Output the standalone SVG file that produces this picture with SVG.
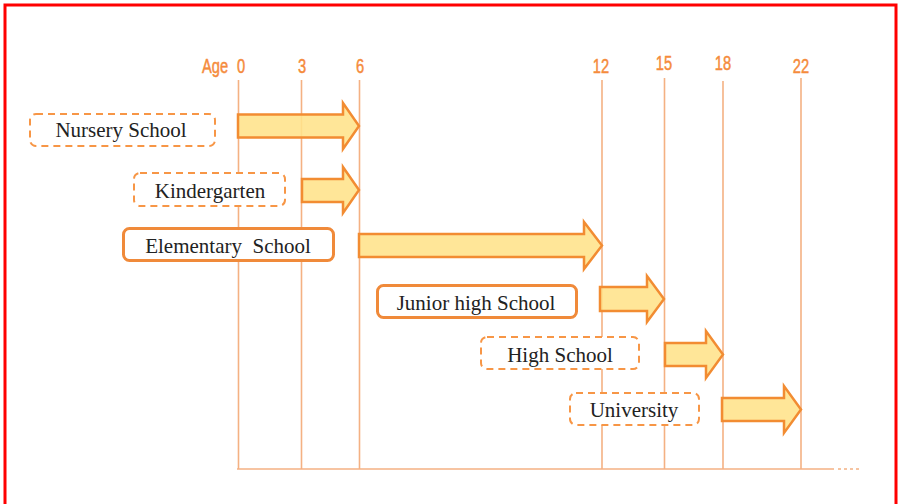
<svg xmlns="http://www.w3.org/2000/svg" width="900" height="504" viewBox="0 0 900 504">
  <style>
    .grid { stroke: #F4B183; stroke-width: 1.6; fill: none; }
    .age { font-family: "Liberation Sans", "DejaVu Sans", sans-serif; font-size: 21px; fill: #F58B3C; stroke: #F58B3C; stroke-width: 0.5; text-anchor: middle; }
    .box { fill: #FFFFFF; stroke: #F79646; rx: 6; }
    .dashed { stroke-width: 2; stroke-dasharray: 7 5; }
    .solid { stroke: #F08A3A; stroke-width: 3; }
    .label { font-family: "Liberation Serif", "Times New Roman", serif; font-size: 21px; fill: #222222; text-anchor: middle; }
    .arrow { fill: #FFE28A; fill-opacity: 0.88; stroke: #F28C32; stroke-width: 2.5; stroke-linejoin: miter; }
  </style>

  <!-- outer frame -->
  <rect x="5" y="5" width="891" height="520" fill="none" stroke="#FF0000" stroke-width="3"/>

  <!-- age scale -->
  <g id="age-scale">
    <text class="age" transform="translate(215,73) scale(0.7,1)">Age</text>
    <text class="age" transform="translate(241,73) scale(0.7,1)">0</text>
    <text class="age" transform="translate(302,73) scale(0.7,1)">3</text>
    <text class="age" transform="translate(360,73) scale(0.7,1)">6</text>
    <text class="age" transform="translate(601,73) scale(0.7,1)">12</text>
    <text class="age" transform="translate(664,70) scale(0.7,1)">15</text>
    <text class="age" transform="translate(723,70) scale(0.7,1)">18</text>
    <text class="age" transform="translate(801,73) scale(0.7,1)">22</text>
  </g>

  <!-- grid lines and baseline -->
  <g id="connectors">
    <line class="grid" x1="238.5" y1="80" x2="238.5" y2="469"/>
    <line class="grid" x1="301.5" y1="80" x2="301.5" y2="469"/>
    <line class="grid" x1="359.5" y1="80" x2="359.5" y2="469"/>
    <line class="grid" x1="602" y1="80" x2="602" y2="469"/>
    <line class="grid" x1="664.5" y1="78" x2="664.5" y2="469"/>
    <line class="grid" x1="723" y1="81" x2="723" y2="469"/>
    <line class="grid" x1="801" y1="78" x2="801" y2="469"/>
    <line class="grid" x1="237" y1="469" x2="834" y2="469" stroke-width="2"/>
    <line class="grid" x1="838" y1="469" x2="862" y2="469" stroke-width="2" stroke-dasharray="3 3"/>
  </g>

  <!-- school stages -->
  <g id="nursery">
    <rect class="box dashed" x="30" y="114" width="185" height="32"/>
    <text class="label" x="121" y="137">Nursery School</text>
    <path class="arrow" d="M238,114.5 H343 V103 L359,126 L343,149 V137.5 H238 Z"/>
  </g>

  <g id="kindergarten">
    <rect class="box dashed" x="134" y="173" width="151" height="33"/>
    <text class="label" x="210" y="198">Kindergarten</text>
    <path class="arrow" d="M302,179 H343 V167 L359,190 L343,213 V202 H302 Z"/>
  </g>

  <g id="elementary">
    <rect class="box solid" x="123.5" y="228.5" width="210" height="32"/>
    <text class="label" x="228" y="253">Elementary&#160; School</text>
    <path class="arrow" d="M359,234 H584 V222 L602,245.5 L584,269 V257 H359 Z"/>
  </g>

  <g id="junior-high">
    <rect class="box solid" x="377.5" y="285.5" width="199" height="32"/>
    <text class="label" x="476" y="310">Junior high School</text>
    <path class="arrow" d="M600,287 H647 V276 L664,299 L647,322 V311 H600 Z"/>
  </g>

  <g id="high-school">
    <rect class="box dashed" x="481" y="337" width="158" height="32"/>
    <text class="label" x="560" y="362">High School</text>
    <path class="arrow" d="M665,343 H706 V331 L723,354.5 L706,378 V366 H665 Z"/>
  </g>

  <g id="university">
    <rect class="box dashed" x="570" y="393" width="129" height="32"/>
    <text class="label" x="634" y="417">University</text>
    <path class="arrow" d="M722,398 H784 V386 L801,409.5 L784,433 V421 H722 Z"/>
  </g>
</svg>
